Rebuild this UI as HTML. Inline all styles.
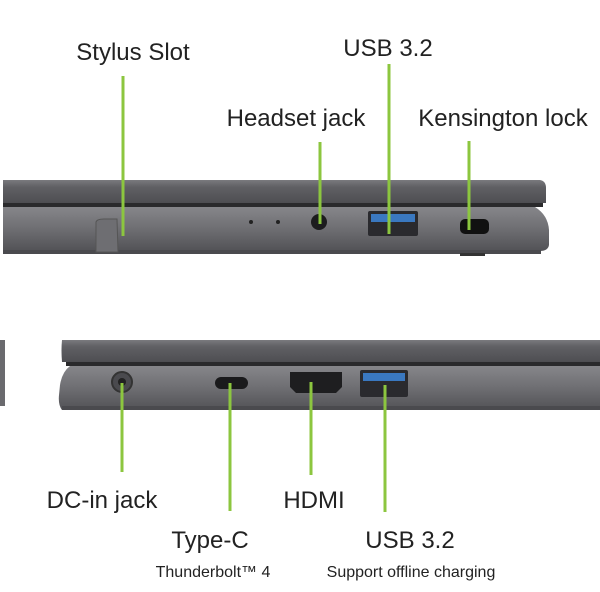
<!DOCTYPE html>
<html><head><style>
html,body{margin:0;padding:0;background:#fff;}
svg{display:block}
text{font-family:"Liberation Sans",sans-serif;fill:#222;}
</style></head><body>
<svg width="600" height="592" viewBox="0 0 600 592" xmlns="http://www.w3.org/2000/svg">
<defs>
<linearGradient id="lid" x1="0" y1="0" x2="0" y2="1"><stop offset="0" stop-color="#7a7a7e"/><stop offset="0.3" stop-color="#606064"/><stop offset="1" stop-color="#4e4e52"/></linearGradient>
<linearGradient id="base" x1="0" y1="0" x2="0" y2="1"><stop offset="0" stop-color="#86868a"/><stop offset="0.5" stop-color="#6e6e72"/><stop offset="1" stop-color="#525256"/></linearGradient>
</defs>
<!-- top laptop -->
<path d="M3,180 L540,180 Q546,181 546,188 L546,203 L3,203 Z" fill="url(#lid)"/>
<rect x="3" y="203" width="540" height="4" fill="#2a2a2c"/>
<path d="M3,207 L535,207 Q548,215 549,230 L549,245 Q548,251 540,251 L3,251 Z" fill="url(#base)"/>
<rect x="3" y="250" width="538" height="4" fill="#4a4a4e"/>
<rect x="460" y="253" width="25" height="3" fill="#333"/>
<path d="M96,222 Q97,219 104,219 L117,219 L118,252 L96,252 Z" fill="#6e6e72" stroke="#555" stroke-width="1"/>
<circle cx="319" cy="222" r="8" fill="#1c1c1e"/>
<rect x="368" y="211" width="50" height="25" rx="2" fill="#2a2a2e"/>
<rect x="371" y="214" width="44" height="8" fill="#3a78c0"/>
<rect x="460" y="219" width="29" height="15" rx="5" fill="#111"/>
<circle cx="251" cy="222" r="2" fill="#222"/><circle cx="278" cy="222" r="2" fill="#222"/>
<!-- bottom laptop -->
<rect x="0" y="340" width="5" height="66" fill="#6a6a6e"/>
<path d="M62,340 L600,340 L600,362 L62,362 Q61,350 62,340 Z" fill="url(#lid)"/>
<rect x="66" y="362" width="534" height="4" fill="#2a2a2c"/>
<path d="M70,366 L600,366 L600,410 L62,410 Q58,405 59,395 L60,385 Q62,372 70,366 Z" fill="url(#base)"/>
<rect x="62" y="406" width="538" height="4" fill="#4a4a4e"/>
<circle cx="122" cy="382" r="10" fill="#4a4a4e" stroke="#333" stroke-width="2"/>
<circle cx="122" cy="382" r="4" fill="#222"/>
<rect x="215" y="377" width="33" height="12" rx="6" fill="#1a1a1c"/>
<path d="M290,372 L342,372 L342,387 L336,393 L296,393 L290,387 Z" fill="#1e1e20"/>
<rect x="360" y="370" width="48" height="27" rx="2" fill="#2a2a2e"/>
<rect x="363" y="373" width="42" height="8" fill="#3a78c0"/>
<!-- green lines -->
<g stroke="#8cc63f" stroke-width="3">
<line x1="123" y1="76" x2="123" y2="236"/>
<line x1="320" y1="142" x2="320" y2="224"/>
<line x1="389" y1="64" x2="389" y2="234"/>
<line x1="469" y1="141" x2="469" y2="230"/>
<line x1="122" y1="383" x2="122" y2="472"/>
<line x1="230" y1="383" x2="230" y2="511"/>
<line x1="311" y1="382" x2="311" y2="475"/>
<line x1="385" y1="385" x2="385" y2="512"/>
</g>
<g font-size="24" text-anchor="middle">
<text x="133" y="60">Stylus Slot</text>
<text x="388" y="56">USB 3.2</text>
<text x="296" y="126">Headset jack</text>
<text x="503" y="126">Kensington lock</text>
<text x="102" y="508">DC-in jack</text>
<text x="314" y="508">HDMI</text>
<text x="210" y="548">Type-C</text>
<text x="410" y="548">USB 3.2</text>
</g>
<g font-size="16" text-anchor="middle">
<text x="213" y="577">Thunderbolt™ 4</text>
<text x="411" y="577">Support offline charging</text>
</g>
</svg>
</body></html>
